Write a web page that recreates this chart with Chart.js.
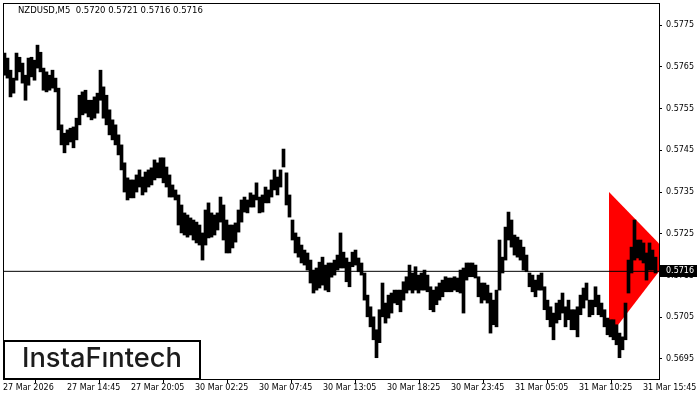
<!DOCTYPE html>
<html><head><meta charset="utf-8">
<script src="https://cdn.jsdelivr.net/npm/chart.js@4/dist/chart.umd.min.js"></script>
<style>html,body{margin:0;padding:0;background:#fff;}canvas{display:block;}</style>
</head><body>
<canvas id="c" width="700" height="400"></canvas>
<script>
const symbolTitle = 'NZDUSD,M5  0.5720 0.5721 0.5716 0.5716';
const logoText = 'InstaF\u0131ntech';
const timeLabels = ['27 Mar 2026','27 Mar 14:45','27 Mar 20:05','30 Mar 02:25','30 Mar 07:45','30 Mar 13:05','30 Mar 18:25','30 Mar 23:45','31 Mar 05:05','31 Mar 10:25','31 Mar 15:45'];
const timeTickBars = [0,64,128,192,256,320,384,448,512,576,640];
const priceTicks = [0.5695,0.5705,0.5715,0.5725,0.5735,0.5745,0.5755,0.5765,0.5775];
const priceMin = 0.56902, priceMax = 0.57803;
const barsPerColumn = 3;
const totalBars = 656;
const currentPrice = 0.5716;
// pennant (triangle) vertices: bar index and price
const pennantBars = [606, 668, 606];
const pennantPrices = [0.57350, 0.57197, 0.57003];

const highs = [
0.57683,0.57671,0.57642,0.57623,0.57683,0.57673,0.57659,0.57630,0.57671,0.57673,
0.57666,0.57702,0.57685,0.57647,0.57638,0.57630,0.57642,0.57623,0.57599,0.57511,
0.57491,0.57499,0.57503,0.57506,0.57527,0.57582,0.57590,0.57594,0.57570,0.57570,
0.57578,0.57587,0.57642,0.57602,0.57582,0.57547,0.57523,0.57511,0.57487,0.57463,
0.57420,0.57384,0.57379,0.57379,0.57391,0.57403,0.57386,0.57398,0.57403,0.57408,
0.57427,0.57420,0.57432,0.57432,0.57410,0.57391,0.57367,0.57355,0.57343,0.57319,
0.57300,0.57295,0.57288,0.57283,0.57278,0.57271,0.57252,0.57307,0.57324,0.57300,
0.57295,0.57300,0.57338,0.57319,0.57283,0.57271,0.57271,0.57276,0.57307,0.57331,
0.57338,0.57331,0.57348,0.57343,0.57372,0.57338,0.57343,0.57362,0.57355,0.57379,
0.57403,0.57386,0.57403,0.57453,0.57396,0.57343,0.57283,0.57252,0.57242,0.57223,
0.57211,0.57204,0.57187,0.57163,0.57168,0.57182,0.57194,0.57175,0.57180,0.57180,
0.57187,0.57199,0.57252,0.57206,0.57192,0.57182,0.57206,0.57211,0.57192,0.57180,
0.57156,0.57103,0.57075,0.57051,0.57020,0.57068,0.57132,0.57084,0.57103,0.57108,
0.57115,0.57115,0.57115,0.57135,0.57147,0.57175,0.57156,0.57171,0.57151,0.57156,
0.57163,0.57151,0.57123,0.57115,0.57123,0.57132,0.57139,0.57147,0.57144,0.57144,
0.57147,0.57144,0.57163,0.57168,0.57180,0.57180,0.57180,0.57175,0.57147,0.57132,
0.57132,0.57127,0.57108,0.57091,0.57115,0.57235,0.57194,0.57266,0.57302,0.57283,
0.57247,0.57242,0.57235,0.57218,0.57199,0.57156,0.57151,0.57139,0.57151,0.57156,
0.57123,0.57091,0.57075,0.57060,0.57084,0.57091,0.57108,0.57075,0.57091,0.57068,
0.57068,0.57075,0.57103,0.57120,0.57132,0.57091,0.57091,0.57123,0.57103,0.57084,
0.57068,0.57048,0.57044,0.57044,0.57032,0.57012,0.57003,0.57084,0.57187,0.57218,
0.57283,0.57235,0.57235,0.57228,0.57204,0.57228,0.57211,0.57194
];
const lows = [
0.57630,0.57623,0.57578,0.57587,0.57618,0.57638,0.57611,0.57570,0.57606,0.57626,
0.57618,0.57647,0.57638,0.57594,0.57590,0.57594,0.57599,0.57590,0.57499,0.57463,
0.57444,0.57463,0.57470,0.57456,0.57475,0.57511,0.57535,0.57539,0.57530,0.57523,
0.57527,0.57539,0.57570,0.57527,0.57511,0.57487,0.57475,0.57463,0.57439,0.57403,
0.57350,0.57331,0.57336,0.57336,0.57350,0.57362,0.57343,0.57350,0.57362,0.57367,
0.57379,0.57384,0.57384,0.57372,0.57362,0.57338,0.57338,0.57331,0.57271,0.57252,
0.57247,0.57242,0.57247,0.57235,0.57228,0.57223,0.57187,0.57223,0.57240,0.57242,
0.57247,0.57259,0.57278,0.57235,0.57204,0.57204,0.57216,0.57230,0.57254,0.57278,
0.57302,0.57300,0.57314,0.57314,0.57331,0.57300,0.57302,0.57324,0.57324,0.57338,
0.57355,0.57343,0.57362,0.57410,0.57319,0.57290,0.57235,0.57204,0.57194,0.57180,
0.57175,0.57163,0.57132,0.57108,0.57115,0.57120,0.57127,0.57115,0.57111,0.57146,
0.57151,0.57163,0.57168,0.57168,0.57135,0.57123,0.57171,0.57175,0.57159,0.57151,
0.57091,0.57051,0.57027,0.56996,0.56953,0.56989,0.57051,0.57036,0.57048,0.57060,
0.57084,0.57080,0.57063,0.57091,0.57108,0.57115,0.57108,0.57115,0.57108,0.57115,
0.57115,0.57111,0.57068,0.57063,0.57080,0.57091,0.57099,0.57111,0.57111,0.57111,
0.57115,0.57111,0.57108,0.57060,0.57139,0.57147,0.57147,0.57144,0.57099,0.57084,
0.57091,0.57084,0.57012,0.57032,0.57027,0.57115,0.57156,0.57187,0.57235,0.57218,
0.57199,0.57194,0.57187,0.57163,0.57159,0.57123,0.57111,0.57099,0.57115,0.57115,
0.57068,0.57044,0.57027,0.56996,0.57036,0.57044,0.57060,0.57027,0.57044,0.57020,
0.57020,0.57003,0.57056,0.57072,0.57091,0.57051,0.57056,0.57075,0.57056,0.57051,
0.57027,0.57008,0.57003,0.56996,0.56984,0.56953,0.56972,0.56996,0.57108,0.57156,
0.57187,0.57192,0.57187,0.57180,0.57139,0.57163,0.57163,0.57156
];

const axisFont = {family:'DejaVu Sans', size:8};
const barData = highs.map((h,i)=>({x: i*barsPerColumn + barsPerColumn/2, y:[lows[i], h]}));

const overlay = {
  id:'overlay',
  afterDraw(chart){
    const ctx = chart.ctx, a = chart.chartArea, ys = chart.scales.y;
    ctx.save();
    // frame
    ctx.strokeStyle = '#000'; ctx.lineWidth = 1;
    ctx.strokeRect(a.left+0.5, a.top+0.5, a.right-a.left, a.bottom-a.top);
    // title
    ctx.fillStyle = '#000'; ctx.font = '8.5px "DejaVu Sans"';
    ctx.textAlign='left'; ctx.textBaseline='middle';
    ctx.fillText(symbolTitle, a.left+15, a.top+8);
    // current price label
    const py = Math.round(ys.getPixelForValue(currentPrice));
    ctx.fillStyle = '#000';
    ctx.fillRect(a.right+1, py-6, 37, 12);
    ctx.fillStyle = '#fff'; ctx.font = '8px "DejaVu Sans"';
    ctx.fillText(currentPrice.toFixed(4), a.right+7, py);
    // logo
    ctx.fillStyle = '#fff';
    ctx.fillRect(a.left+1, a.bottom-38, 196, 37);
    ctx.strokeStyle = '#000'; ctx.lineWidth = 2;
    ctx.strokeRect(a.left+1, a.bottom-38, 196, 38);
    let fs = 24;
    ctx.font = '500 '+fs+'px Inter';
    const w = ctx.measureText(logoText).width;
    fs = fs*160/w;
    ctx.font = '500 '+fs.toFixed(2)+'px Inter';
    ctx.fillStyle = '#1c1c1c'; ctx.textBaseline='middle';
    ctx.fillText(logoText, a.left+19, a.bottom-20);
    ctx.restore();
  }
};

new Chart(document.getElementById('c'), {
  type:'bar',
  data:{ datasets:[
    { type:'line', data: pennantBars.map((b,i)=>({x:b, y:pennantPrices[i]})), fill:'shape',
      backgroundColor:'#ff0000', borderColor:'#ff0000', borderWidth:0, pointRadius:0, tension:0, order:3 },
    { type:'bar', data: barData, backgroundColor:'#000', borderWidth:0, barThickness:barsPerColumn, order:2 },
    { type:'line', data:[{x:0,y:currentPrice},{x:totalBars,y:currentPrice}], borderColor:'#000', borderWidth:1,
      pointRadius:0, fill:false, order:1 }
  ]},
  options:{
    responsive:false, animation:false, devicePixelRatio:1,
    layout:{padding:{left:3, top:3, right:0, bottom:0}},
    plugins:{legend:{display:false}, tooltip:{enabled:false}},
    scales:{
      x:{ type:'linear', min:0, max:totalBars, offset:false,
        afterBuildTicks: s => { s.ticks = timeTickBars.map(v=>({value:v})); },
        afterFit: s => { s.height = 21; s.paddingLeft = 0; s.paddingRight = 0; },
        ticks:{ autoSkip:false, maxRotation:0, minRotation:0, align:'start', padding:0, color:'#000', font:axisFont,
          callback:(v,i)=>timeLabels[i] },
        grid:{ display:true, drawOnChartArea:false, drawTicks:true, tickLength:4, color:'#000', lineWidth:1 },
        border:{ display:true, color:'#000', width:1 }
      },
      y:{ type:'linear', position:'right', min:priceMin, max:priceMax,
        afterBuildTicks: s => { s.ticks = priceTicks.map(v=>({value:v})); },
        afterFit: s => { s.width = 41; s.paddingTop = 0; s.paddingBottom = 0; },
        ticks:{ autoSkip:false, padding:4, color:'#000', font:axisFont, callback: v => Number(v).toFixed(4) },
        grid:{ display:true, drawOnChartArea:false, drawTicks:true, tickLength:3, color:'#000', lineWidth:1 },
        border:{ display:true, color:'#000', width:1 }
      }
    }
  },
  plugins:[overlay]
});
</script>
</body></html>
